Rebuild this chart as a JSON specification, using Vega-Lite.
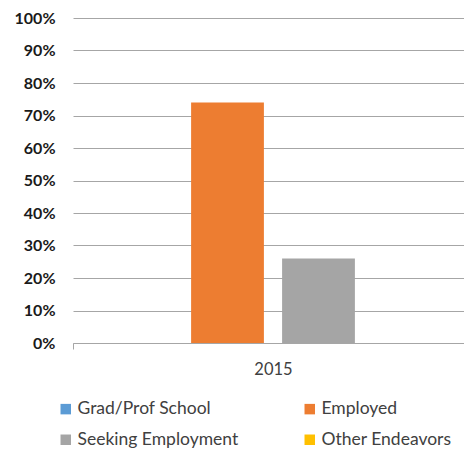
{
  "$schema": "https://vega.github.io/schema/vega-lite/v6.json",
  "width": 400,
  "height": 325,
  "autosize": {"type": "none"},
  "padding": {"left": 73, "top": 18, "right": 0, "bottom": 108},
  "background": "white",
  "config": {"view": {"stroke": null}, "font": "Lato"},
  "data": {"values": [
    {"year": "2015", "series": "Grad/Prof School", "value": 0},
    {"year": "2015", "series": "Employed", "value": 0.74},
    {"year": "2015", "series": "Seeking Employment", "value": 0.26},
    {"year": "2015", "series": "Other Endeavors", "value": 0}
  ]},
  "mark": {"type": "bar"},
  "encoding": {
    "x": {
      "field": "year", "type": "nominal",
      "scale": {"paddingInner": 0, "paddingOuter": 0},
      "axis": {"title": null, "labelAngle": 0, "labelFontSize": 16.5, "labelColor": "#404040", "labelPadding": 12,
        "domainColor": "#a6a6a6", "tickColor": "#a6a6a6", "tickBand": "extent", "tickSize": 6, "labelFont": "Lato"}
    },
    "xOffset": {
      "field": "series", "type": "nominal",
      "scale": {"domain": ["Grad/Prof School", "Employed", "Seeking Employment", "Other Endeavors"], "paddingInner": 0.2, "paddingOuter": 0.298}
    },
    "y": {
      "field": "value", "type": "quantitative",
      "scale": {"domain": [0, 1], "nice": false},
      "axis": {"title": null, "format": ".0%", "values": [0, 0.1, 0.2, 0.3, 0.4, 0.5, 0.6, 0.7, 0.8, 0.9, 1],
        "labelFontSize": 16, "labelFontWeight": "bold", "labelColor": "#1a1a1a", "labelPadding": 18,
        "domain": false, "ticks": false, "gridColor": "#a6a6a6", "gridWidth": 1}
    },
    "color": {
      "field": "series", "type": "nominal",
      "scale": {"domain": ["Grad/Prof School", "Employed", "Seeking Employment", "Other Endeavors"],
        "range": ["#5B9BD5", "#ED7D31", "#A5A5A5", "#FFC000"]},
      "legend": {"title": null, "orient": "none", "legendX": -16, "legendY": 382, "columns": 2, "direction": "horizontal",
        "symbolType": "square", "symbolSize": 110, "symbolStrokeWidth": 0, "labelFontSize": 17.5, "labelColor": "#404040",
        "labelFont": "Lato", "columnPadding": 62, "rowPadding": 12, "labelOffset": 3, "labelLimit": 300}
    }
  }
}
